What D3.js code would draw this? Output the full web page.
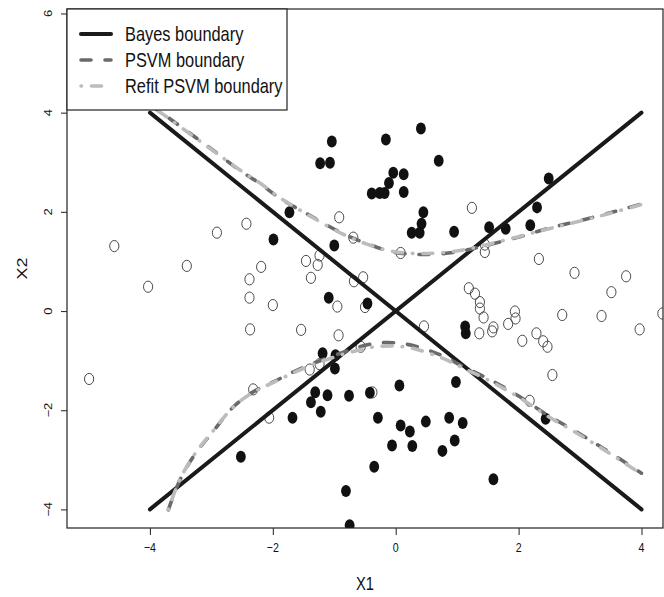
<!DOCTYPE html>
<html>
<head>
<meta charset="utf-8">
<script src="https://cdn.jsdelivr.net/npm/d3@7/dist/d3.min.js"></script>
<style>
  body { margin: 0; background: #fff; }
  text { font-family: "Liberation Sans", Arial, sans-serif; fill: #111; }
</style>
</head>
<body>
<div id="chart"></div>
<script>
var width  = 664,
    height = 597,
    squish = 0.82;   // the picture is narrower than it is tall

// filled dots (class +1)
var filledPts = [
  [-1.04, 3.42], [-1.23, 2.98], [-1.07, 2.99], [-0.16, 3.46], [0.41, 3.68],
  [0.70, 3.03], [-0.04, 2.79], [0.13, 2.76], [-0.11, 2.58], [-0.39, 2.37],
  [-0.26, 2.38], [-0.18, 2.38], [0.13, 2.40], [0.45, 1.99], [0.42, 1.76],
  [0.26, 1.58], [0.39, 1.58], [0.95, 1.60], [1.52, 1.69], [1.79, 1.66],
  [2.19, 1.73], [2.30, 2.09], [2.49, 2.67], [-1.73, 1.99], [-1.99, 1.44],
  [-1.00, 1.32], [-1.09, 0.27], [-0.46, 0.15], [-1.19, -0.85], [-0.98, -0.89],
  [-0.99, -1.16], [-1.31, -1.64], [-1.38, -1.84], [-1.11, -1.70], [-1.22, -2.03],
  [-0.76, -1.71], [-0.42, -1.65], [0.06, -1.50], [0.98, -1.43], [-1.68, -2.15],
  [-0.29, -2.15], [0.08, -2.31], [0.23, -2.43], [0.49, -2.23], [0.87, -2.15],
  [1.09, -2.26], [-0.06, -2.71], [0.27, -2.72], [0.76, -2.82], [0.96, -2.61],
  [-0.35, -3.14], [1.59, -3.39], [2.44, -2.17], [-2.52, -2.94], [-0.81, -3.63],
  [-0.75, -4.32], [1.13, -0.31], [1.14, -0.45]
];

// open circles (class -1)
var openPts = [
  [-4.99, -1.37], [-4.58, 1.31], [-4.03, 0.49], [-3.40, 0.91], [-2.91, 1.58],
  [-2.43, 1.76], [-2.19, 0.89], [-2.38, 0.64], [-2.38, 0.27], [-2.00, 0.12],
  [-1.46, 1.01], [-1.24, 1.12], [-1.27, 0.93], [-1.38, 0.67], [-0.92, 1.89],
  [-0.69, 1.48], [-0.68, 0.60], [-0.53, 0.68], [-0.95, 0.09], [-0.50, 0.08],
  [1.24, 2.08], [0.08, 1.17], [1.45, 1.34], [1.45, 1.19], [2.33, 1.05],
  [2.91, 0.77], [3.75, 0.70], [3.51, 0.38], [1.19, 0.46], [1.29, 0.35],
  [1.37, 0.18], [1.37, 0.05], [1.43, -0.13], [1.94, -0.01], [1.95, -0.15],
  [1.83, -0.26], [1.59, -0.33], [1.57, -0.41], [1.36, -0.45], [0.46, -0.31],
  [2.06, -0.60], [2.29, -0.45], [2.40, -0.61], [2.47, -0.72], [2.71, -0.08],
  [3.35, -0.10], [3.97, -0.37], [4.34, -0.05], [2.55, -1.29], [2.18, -1.81],
  [-2.37, -0.37], [-1.54, -0.38], [-0.93, -0.49], [-0.57, -0.72], [-2.32, -1.58],
  [-1.40, -1.18], [-1.24, -1.07], [-2.06, -2.15], [-0.38, -1.64]
];

var bayesLines = [
  [[-4, -4], [4, 4]],
  [[-4, 4], [4, -4]]
];

var psvmUpper = [
  [-4.00, 4.16], [-3.78, 3.97], [-3.48, 3.70], [-3.08, 3.34], [-2.53, 2.83],
  [-2.21, 2.57], [-1.88, 2.27], [-1.40, 1.93], [-0.86, 1.56], [-0.47, 1.36],
  [-0.04, 1.19], [0.45, 1.14], [0.99, 1.19], [1.42, 1.31], [1.97, 1.48],
  [2.46, 1.66], [2.89, 1.79], [3.43, 1.96], [4.00, 2.16]
];
var psvmLower = [
  [-3.70, -4.01], [-3.56, -3.54], [-3.43, -3.21], [-3.24, -2.84], [-3.00, -2.47],
  [-2.64, -1.93], [-2.32, -1.63], [-1.99, -1.43], [-1.67, -1.23], [-1.29, -1.03],
  [-0.85, -0.83], [-0.58, -0.72], [-0.26, -0.64], [0.18, -0.67], [0.72, -0.88],
  [1.10, -1.12], [1.59, -1.42], [2.02, -1.73], [2.46, -2.09], [2.89, -2.40],
  [3.38, -2.77], [4.00, -3.27]
];
var refitUpper = [
  [-4.00, 4.15], [-3.78, 3.96], [-3.48, 3.69], [-3.08, 3.33], [-2.53, 2.84],
  [-2.21, 2.58], [-1.88, 2.28], [-1.40, 1.92], [-0.86, 1.55], [-0.47, 1.35],
  [-0.04, 1.20], [0.45, 1.16], [0.99, 1.21], [1.42, 1.32], [1.97, 1.49],
  [2.46, 1.65], [2.89, 1.78], [3.43, 1.95], [4.00, 2.15]
];
var refitLower = [
  [-3.70, -4.00], [-3.56, -3.53], [-3.43, -3.20], [-3.24, -2.83], [-3.00, -2.46],
  [-2.64, -1.93], [-2.32, -1.64], [-1.99, -1.44], [-1.67, -1.25], [-1.29, -1.05],
  [-0.85, -0.87], [-0.58, -0.78], [-0.26, -0.71], [0.18, -0.73], [0.72, -0.93],
  [1.10, -1.15], [1.59, -1.45], [2.02, -1.75], [2.46, -2.11], [2.89, -2.42],
  [3.38, -2.79], [4.00, -3.29]
];

var xTicks = [-4, -2, 0, 2, 4],
    yTicks = [-4, -2, 0, 2, 4, 6];

var legendItems = [
  { label: "Bayes boundary",      color: "#1a1a1a", dash: null,          w: 4 },
  { label: "PSVM boundary",       color: "#6a6a6a", dash: "10 14",       w: 3.6 },
  { label: "Refit PSVM boundary", color: "#bcbcbc", dash: "0.5 10 10 10", w: 3.6 }
];

// Main
//-----------------------------------------------------

var box = { left: 67, right: 663, top: 9, bottom: 528 };

var x = d3.scaleLinear().domain([-5.35, 4.35]).range([box.left, box.right]);
var y = d3.scaleLinear().domain([-4.375, 6.09]).range([box.bottom, box.top]);

var svg = d3.select("#chart").append("svg")
    .attr("width", width)
    .attr("height", height);

svg.append("defs").append("clipPath")
    .attr("id", "plotclip")
    .append("rect")
    .attr("x", box.left).attr("y", box.top)
    .attr("width", box.right - box.left)
    .attr("height", box.bottom - box.top);

var plot = svg.append("g").attr("clip-path", "url(#plotclip)");

plot.selectAll("ellipse.open")
    .data(openPts)
    .enter().append("ellipse")
    .attr("class", "open")
    .attr("cx", function(d) { return x(d[0]); })
    .attr("cy", function(d) { return y(d[1]); })
    .attr("rx", 4.6)
    .attr("ry", 5.6)
    .style("fill", "none")
    .style("stroke", "#4a4a4a")
    .style("stroke-width", 1);

plot.selectAll("ellipse.filled")
    .data(filledPts)
    .enter().append("ellipse")
    .attr("class", "filled")
    .attr("cx", function(d) { return x(d[0]); })
    .attr("cy", function(d) { return y(d[1]); })
    .attr("rx", 4.9)
    .attr("ry", 6)
    .style("fill", "#111");

var line = d3.line()
    .x(function(d) { return x(d[0]); })
    .y(function(d) { return y(d[1]); });

var curve = d3.line()
    .curve(d3.curveCatmullRom)
    .x(function(d) { return x(d[0]); })
    .y(function(d) { return y(d[1]); });

plot.selectAll("path.bayes")
    .data(bayesLines)
    .enter().append("path")
    .attr("class", "bayes")
    .attr("d", line)
    .style("fill", "none")
    .style("stroke", legendItems[0].color)
    .style("stroke-width", legendItems[0].w)
    .style("stroke-linecap", "round");

function drawCurves(list, item) {
    plot.selectAll(null)
        .data(list)
        .enter().append("path")
        .attr("d", curve)
        .style("fill", "none")
        .style("stroke", item.color)
        .style("stroke-width", item.w)
        .style("stroke-dasharray", item.dash)
        .style("stroke-linecap", "round");
}
drawCurves([psvmUpper, psvmLower], legendItems[1]);
drawCurves([refitUpper, refitLower], legendItems[2]);

// frame
svg.append("rect")
    .attr("x", box.left).attr("y", box.top)
    .attr("width", box.right - box.left)
    .attr("height", box.bottom - box.top)
    .style("fill", "none")
    .style("stroke", "#222")
    .style("stroke-width", 1.2);

// axes
var gx = svg.append("g")
    .attr("transform", "translate(0," + box.bottom + ")")
    .call(d3.axisBottom(x).tickValues(xTicks).tickSize(7).tickFormat(""));
var gy = svg.append("g")
    .attr("transform", "translate(" + box.left + ",0)")
    .call(d3.axisLeft(y).tickValues(yTicks).tickSize(6).tickFormat(""));
[gx, gy].forEach(function(g) {
    g.select(".domain").remove();
    g.selectAll("line").style("stroke", "#333").style("stroke-width", 1.1);
});

var fmt = function(v) { return d3.format("")(v).replace("-", "\u2212"); };

svg.selectAll("text.xtick")
    .data(xTicks)
    .enter().append("text")
    .attr("class", "xtick")
    .attr("transform", function(d) { return "translate(" + x(d) + ",547) scale(" + squish + ",1)"; })
    .attr("dy", "0.35em")
    .attr("text-anchor", "middle")
    .style("font-size", "13px")
    .text(fmt);

svg.selectAll("text.ytick")
    .data(yTicks)
    .enter().append("text")
    .attr("class", "ytick")
    .attr("transform", function(d) { return "translate(48," + y(d) + ") scale(" + squish + ",1) rotate(-90)"; })
    .attr("dy", "0.35em")
    .attr("text-anchor", "middle")
    .style("font-size", "13px")
    .text(fmt);

svg.append("text")
    .attr("transform", "translate(" + (box.left + box.right) / 2 + ",584) scale(" + squish + ",1)")
    .attr("dy", "0.35em")
    .attr("text-anchor", "middle")
    .style("font-size", "18px")
    .text("X1");

svg.append("text")
    .attr("transform", "translate(22," + (box.top + box.bottom) / 2 + ") scale(" + squish + ",1) rotate(-90)")
    .attr("dy", "0.35em")
    .attr("text-anchor", "middle")
    .style("font-size", "18px")
    .text("X2");

// legend
var legend = svg.append("g");
legend.append("rect")
    .attr("x", box.left).attr("y", box.top)
    .attr("width", 220).attr("height", 101)
    .style("fill", "#fff")
    .style("stroke", "#222")
    .style("stroke-width", 1.2);

var rows = legend.selectAll("g.row")
    .data(legendItems)
    .enter().append("g")
    .attr("class", "row")
    .attr("transform", function(d, i) { return "translate(0," + (34 + i * 26) + ")"; });

rows.append("line")
    .attr("x1", 81).attr("x2", 111)
    .style("stroke", function(d) { return d.color; })
    .style("stroke-width", function(d) { return d.w; })
    .style("stroke-dasharray", function(d) { return d.dash; })
    .style("stroke-linecap", "round");

rows.append("text")
    .attr("transform", "translate(125,0) scale(" + squish + ",1)")
    .attr("dy", "0.36em")
    .style("font-size", "20px")
    .text(function(d) { return d.label; });
</script>
</body>
</html>
